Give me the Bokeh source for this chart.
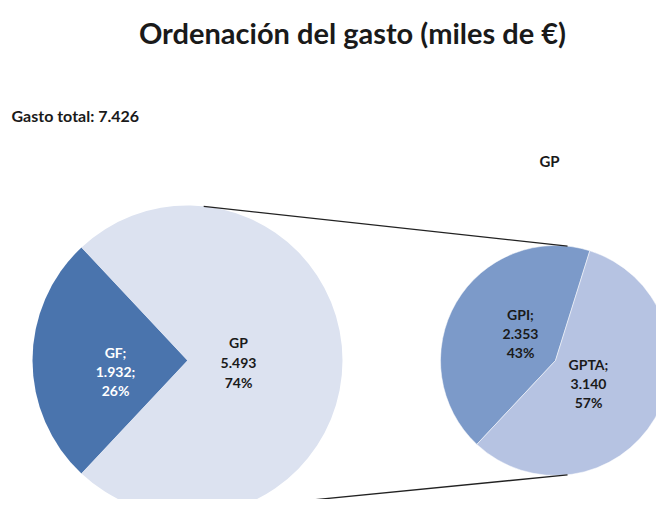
import math
from bokeh.plotting import figure
from bokeh.models import Range1d
from bokeh.core.properties import value
from bokeh.embed import file_html
from bokeh.resources import INLINE

# ---- data ----
main_labels = ["GF", "GP"]
main_values = [1932, 5493]
main_pcts = ["26%", "74%"]
sub_labels = ["GPI", "GPTA"]
sub_values = [2353, 3140]
sub_pcts = ["43%", "57%"]
total_text = "Gasto total: 7.426"
title_text = "Ordenación del gasto (miles de €)"
sub_title = "GP"

main_colors = ["#4A74AD", "#DCE2F0"]
sub_colors = ["#7C9AC9", "#B6C3E2"]

W, H = 656, 499
FONT = "Lato"

def Y(yref):
    return H - yref

p = figure(width=W, height=H, output_backend="svg", toolbar_location=None,
           x_range=Range1d(0, W), y_range=Range1d(0, H),
           min_border=0, outline_line_color=None)
p.axis.visible = False
p.grid.visible = False
p.background_fill_color = "white"
p.border_fill_color = "white"

# geometry of the two pies (reference pixel space)
c1x, c1y, r1 = 187, 360, 155
c2x, c2y, r2 = 555, 360, 115

# main pie: GF centered at 180 degrees
tot1 = sum(main_values)
gf_span = main_values[0] / tot1 * 2 * math.pi
s0 = math.pi - gf_span / 2
starts1 = [s0, s0 + gf_span]
ends1 = [s0 + gf_span, s0 + 2 * math.pi]
p.wedge(x=[c1x, c1x], y=[Y(c1y), Y(c1y)], radius=r1,
        start_angle=starts1, end_angle=ends1,
        fill_color=main_colors, line_color=None)

# secondary pie: GPI ends where GF ends
tot2 = sum(sub_values)
gpi_span = sub_values[0] / tot2 * 2 * math.pi
e_gpi = s0 + gf_span
starts2 = [e_gpi - gpi_span, e_gpi]
ends2 = [e_gpi, e_gpi - gpi_span + 2 * math.pi]
p.wedge(x=[c2x, c2x], y=[Y(c2y), Y(c2y)], radius=r2,
        start_angle=starts2, end_angle=ends2,
        fill_color=sub_colors, line_color="white", line_width=0.5)

# connector lines
a = math.radians(84)
p.segment(x0=[c1x + r1 * math.cos(a), c1x + r1 * math.cos(a)],
          y0=[Y(c1y) + r1 * math.sin(a), Y(c1y) - r1 * math.sin(a) + 4],
          x1=[c2x + r2 * math.cos(a), c2x + r2 * math.cos(a)],
          y1=[Y(c2y) + r2 * math.sin(a), Y(c2y) - r2 * math.sin(a)],
          line_color="#222222", line_width=1.3)

def txt(x, y, s, size, color="#1a1a1a", align="center"):
    p.text(x=[x], y=[Y(y)], text=[s], text_font=value(FONT),
           text_font_style="bold", text_font_size=size, text_color=color,
           text_align=align, text_baseline="middle")

txt(352, 32, title_text, "29px")
txt(11, 115, total_text, "16px", align="left")
txt(549, 160, sub_title, "15px")

def fmt(v):
    return f"{v/1000:.3f}"

# data labels
lbl = [
    (115, [352, 371, 390], [main_labels[0] + ";", fmt(main_values[0]) + ";", main_pcts[0]], "white"),
    (238, [342, 362, 382], [main_labels[1], fmt(main_values[1]), main_pcts[1]], "#1a1a1a"),
    (520, [314, 333, 352], [sub_labels[0] + ";", fmt(sub_values[0]), sub_pcts[0]], "#1a1a1a"),
    (588, [364, 383, 402], [sub_labels[1] + ";", fmt(sub_values[1]), sub_pcts[1]], "#1a1a1a"),
]
for x, ys, lines, col in lbl:
    for yy, s in zip(ys, lines):
        txt(x, yy, s, "14px", color=col)

open("out.html", "w").write(file_html(p, INLINE))
